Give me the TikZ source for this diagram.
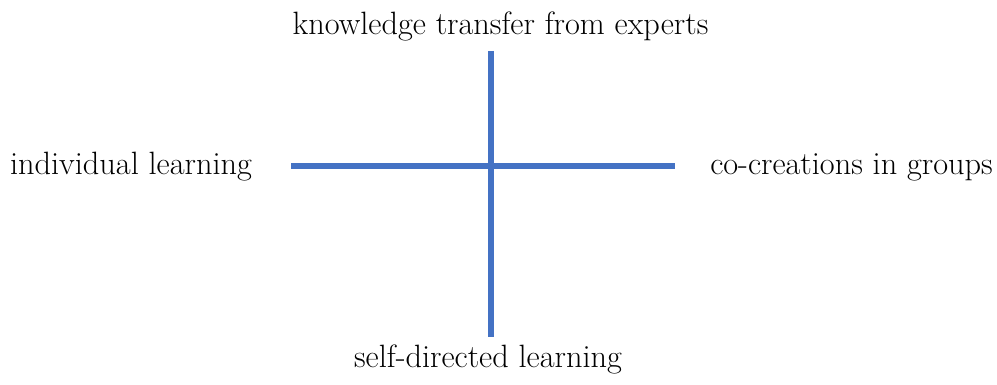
\documentclass[tikz,border=0pt]{standalone}
\usepackage{xcolor}
\usepackage{tikz}
\usetikzlibrary{positioning}
\definecolor{axisblue}{RGB}{68,114,196}

\begin{document}
\begin{tikzpicture}[x=1pt,y=-1pt,axis/.style={line width=5.5pt,axisblue},lbl/.style={anchor=base,inner sep=0pt,font=\fontsize{32.3}{38}\selectfont}]
\useasboundingbox (0,0) rectangle (997,385);
\coordinate (ctop) at (491,51);
\coordinate (cbot) at (491,337);
\coordinate (cleft) at (291,166);
\coordinate (cright) at (675,166);
\draw[axis] (ctop) -- (cbot);
\draw[axis] (cleft) -- (cright);
\node[lbl] (expert) at (500.5,35) {knowledge transfer from experts};
\node[lbl] (indiv) at (131,175) {individual learning};
\node[lbl] (group) at (851.5,175) {co-creations in groups};
\node[lbl] (self) at (488,367) {self-directed learning};
\end{tikzpicture}
\end{document}
